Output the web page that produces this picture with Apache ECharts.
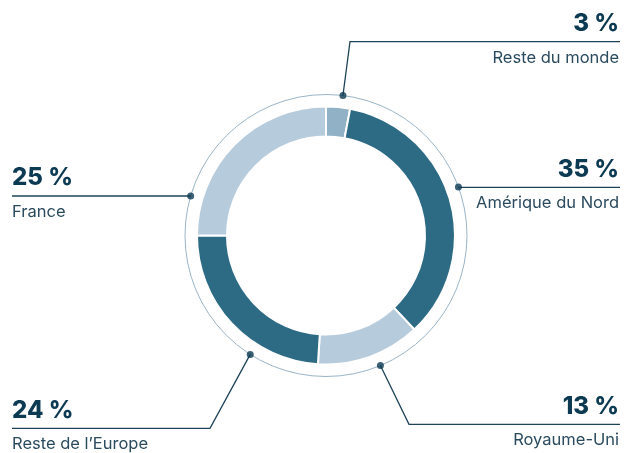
<!DOCTYPE html>
<html>
<head>
<meta charset="utf-8">
<script src="https://cdn.jsdelivr.net/npm/echarts@6/dist/echarts.min.js"></script>
<style>
html,body{margin:0;padding:0;background:#fff;}
#chart{width:625px;height:453px;}
</style>
</head>
<body>
<div id="chart"></div>
<script>
// ---- data ----
var categories = ['Reste du monde', 'Amérique du Nord', 'Royaume-Uni', 'Reste de l\u2019Europe', 'France'];
var shares = [3, 35, 13, 24, 25];
var sliceColors = ['#90b1c6', '#2d6b85', '#b6ccdd', '#2d6b85', '#b6ccdd'];

// ---- layout (annotation geometry) ----
var CX = 326, CY = 235.5, RING_R = 141;
var leaderAngles = [6.9, 69.9, 157.3, 212.5, 286.3];      // where each leader meets the outer ring (deg, clockwise from top)
var labelLineY = [41.7, 187.3, 424.3, 428.3, 196];        // y of the horizontal rule under each value
var elbowX = [350, null, 409, 210, null];                 // x of the elbow (null = straight)
var sideRight = [true, true, true, false, false];
var LEFT_X = 12, RIGHT_X = 620;

function dotPos(i) {
  var a = leaderAngles[i] * Math.PI / 180;
  return [CX + RING_R * Math.sin(a), CY - RING_R * Math.cos(a)];
}

var chart = echarts.init(document.getElementById('chart'), null, {renderer: 'canvas'});
var fontFam = 'Inter, "Noto Sans", sans-serif';

var option = {
  animation: false,
  backgroundColor: '#ffffff',
  polar: { center: [CX, CY], radius: RING_R },
  angleAxis: {
    type: 'value', min: 0, max: 360, startAngle: 90, clockwise: true,
    axisLine: { show: true, lineStyle: { color: '#9ab5c7', width: 1 } },
    axisTick: { show: false }, axisLabel: { show: false }, splitLine: { show: false }
  },
  radiusAxis: { type: 'value', min: 0, max: 1, show: false, splitLine: { show: false } },
  series: [
    {
      type: 'pie',
      center: [CX, CY],
      radius: [99, 129],
      startAngle: 90,
      clockwise: true,
      silent: true,
      itemStyle: { borderColor: '#ffffff', borderWidth: 2 },
      data: categories.map(function (c, i) {
        return { name: c, value: shares[i], itemStyle: { color: sliceColors[i] } };
      }),
      label: {
        show: true,
        position: 'outside',
        overflow: 'none',
        edgeDistance: 0,
        formatter: '{p|{c} %}\n{n|{b}}',
        rich: {
          p: { fontFamily: fontFam, fontSize: 24, fontWeight: 800, color: '#0c3a52', lineHeight: 36 },
          n: { fontFamily: fontFam, fontSize: 16.5, fontWeight: 400, color: '#2a4a5e', lineHeight: 32 }
        }
      },
      labelLine: { show: true, smooth: false, lineStyle: { color: '#1d4358', width: 1.3 } },
      labelLayout: function (params) {
        var i = params.dataIndex;
        var d = dotPos(i);
        var ly = labelLineY[i];
        var right = sideRight[i];
        var endX = right ? RIGHT_X : LEFT_X;
        var mid = elbowX[i] == null ? [ (d[0] + endX) / 2, ly ] : [elbowX[i], ly];
        if (elbowX[i] == null) { d = [d[0], ly]; }
        return {
          x: right ? RIGHT_X - 1 : LEFT_X,
          y: ly - 36,
          width: 240,
          align: right ? 'right' : 'left',
          verticalAlign: 'top',
          labelLinePoints: [d, mid, [endX, ly]]
        };
      }
    },
    {
      type: 'scatter',
      coordinateSystem: 'polar',
      silent: true,
      symbol: 'circle',
      symbolSize: 7,
      itemStyle: { color: '#0c3a52' },
      z: 5,
      data: leaderAngles.map(function (a) { return [1, a]; })
    }
  ]
};
chart.setOption(option);
</script>
</body>
</html>
